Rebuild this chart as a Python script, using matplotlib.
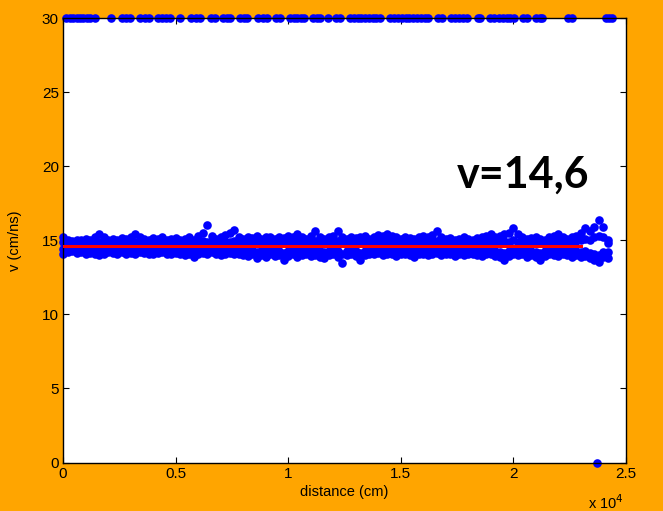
import numpy as np
import matplotlib
matplotlib.use("Agg")
import matplotlib.pyplot as plt

# velocity samples along the track, one column every 200 cm
dist = np.arange(0, 24400, 200)

v_upper = [
    15.2, 15.0, 14.95, 15.05, 15.0, 15.1, 15.05, 15.2, 15.45, 15.2,
    15.05, 15.1, 15.0, 15.15, 15.1, 15.25, 15.45, 15.2, 15.1, 15.05,
    15.15, 15.1, 15.2, 15.05, 15.1, 15.15, 15.0, 15.1, 15.2, 15.05,
    15.3, 15.5, 16.0, 15.3, 15.1, 15.2, 15.35, 15.5, 15.7, 15.2,
    15.1, 15.25, 15.15, 15.3, 15.1, 15.2, 15.25, 15.1, 15.2, 15.15,
    15.3, 15.25, 15.45, 15.2, 15.1, 15.3, 15.6, 15.2, 15.1, 15.2,
    15.3, 15.65, 15.25, 15.1, 15.2, 15.15, 15.25, 15.3, 15.1, 15.2,
    15.35, 15.3, 15.45, 15.3, 15.2, 15.1, 15.25, 15.15, 15.1, 15.2,
    15.3, 15.2, 15.35, 15.6, 15.2, 15.1, 15.15, 15.05, 15.1, 15.2,
    15.1, 15.05, 15.15, 15.2, 15.3, 15.45, 15.2, 15.3, 15.4, 15.5,
    15.85, 15.4, 15.2, 15.1, 15.15, 15.2, 15.1, 15.05, 15.2, 15.3,
    15.45, 15.2, 15.1, 15.2, 15.3, 15.5, 15.8, 15.6, 15.9, 16.35,
    15.9, 15.0,
]
v_midhi = [
    14.85, 14.8, 14.9, 14.85, 14.8, 14.9, 14.85, 14.8, 14.9, 14.85,
    14.8, 14.85, 14.9, 14.8, 14.85, 14.9, 14.85, 14.8, 14.9, 14.85,
    14.8, 14.9, 14.85, 14.8, 14.85, 14.9, 14.8, 14.85, 14.9, 14.85,
    14.9, 14.95, 14.9, 14.85, 14.8, 14.9, 14.85, 14.9, 14.95, 14.85,
    14.8, 14.9, 14.85, 14.9, 14.8, 14.85, 14.9, 14.8, 14.85, 14.9,
    14.85, 14.9, 14.95, 14.85, 14.8, 14.9, 14.95, 14.85, 14.8, 14.9,
    14.85, 14.95, 14.9, 14.8, 14.85, 14.9, 14.85, 14.9, 14.8, 14.85,
    14.9, 14.85, 14.95, 14.9, 14.85, 14.8, 14.9, 14.85, 14.8, 14.85,
    14.9, 14.85, 14.9, 14.95, 14.85, 14.8, 14.85, 14.8, 14.85, 14.9,
    14.8, 14.85, 14.9, 14.85, 14.9, 14.95, 14.85, 14.9, 14.95, 14.9,
    15.0, 14.9, 14.85, 14.8, 14.85, 14.9, 14.8, 14.85, 14.9, 14.85,
    14.95, 14.85, 14.8, 14.9, 14.95, 15.0, 15.1, 15.0, 15.2, 15.3,
    15.2, 14.8,
]
v_midlo = [
    14.4, 14.45, 14.5, 14.4, 14.45, 14.35, 14.4, 14.35, 14.3, 14.4,
    14.45, 14.4, 14.35, 14.45, 14.4, 14.4, 14.35, 14.45, 14.4, 14.35,
    14.35, 14.4, 14.45, 14.4, 14.35, 14.4, 14.35, 14.3, 14.35, 14.25,
    14.4, 14.4, 14.35, 14.45, 14.4, 14.3, 14.35, 14.4, 14.35, 14.4,
    14.3, 14.3, 14.35, 14.2, 14.3, 14.25, 14.35, 14.3, 14.3, 14.15,
    14.3, 14.35, 14.25, 14.3, 14.4, 14.3, 14.3, 14.25, 14.2, 14.3,
    14.4, 14.25, 14.05, 14.3, 14.4, 14.3, 14.15, 14.3, 14.4, 14.35,
    14.4, 14.3, 14.4, 14.35, 14.3, 14.4, 14.35, 14.3, 14.25, 14.35,
    14.4, 14.3, 14.35, 14.4, 14.3, 14.4, 14.35, 14.3, 14.4, 14.3,
    14.35, 14.4, 14.3, 14.3, 14.35, 14.4, 14.3, 14.2, 14.15, 14.3,
    14.35, 14.3, 14.4, 14.25, 14.3, 14.2, 14.15, 14.3, 14.35, 14.3,
    14.3, 14.35, 14.3, 14.25, 14.3, 14.2, 14.3, 14.15, 14.1, 14.0,
    14.2, 14.2,
]
v_lower = [
    14.1, 14.2, 14.25, 14.15, 14.2, 14.1, 14.15, 14.05, 14.0, 14.1,
    14.2, 14.15, 14.1, 14.2, 14.1, 14.15, 14.05, 14.2, 14.15, 14.1,
    14.05, 14.15, 14.2, 14.1, 14.05, 14.15, 14.1, 14.0, 14.05, 13.9,
    14.1, 14.15, 14.05, 14.2, 14.1, 14.0, 14.1, 14.15, 14.05, 14.1,
    14.0, 13.95, 14.05, 13.8, 14.0, 13.9, 14.05, 13.95, 14.0, 13.7,
    13.95, 14.05, 13.9, 14.0, 14.1, 13.95, 14.0, 13.9, 13.8, 14.0,
    14.1, 13.9, 13.45, 14.0, 14.1, 13.95, 13.7, 14.0, 14.1, 14.05,
    14.15, 14.0, 14.1, 14.05, 13.95, 14.1, 14.05, 14.0, 13.9, 14.05,
    14.1, 14.0, 14.05, 14.15, 14.0, 14.1, 14.05, 13.95, 14.1, 14.0,
    14.05, 14.1, 14.0, 13.95, 14.05, 14.1, 13.95, 13.85, 13.7, 13.95,
    14.05, 14.0, 14.1, 13.9, 14.0, 13.85, 13.7, 13.95, 14.05, 14.0,
    13.95, 14.05, 14.0, 13.9, 14.0, 13.85, 13.95, 13.8, 13.7, 13.5,
    13.85, 13.8,
]

# readings that saturated at the 30 cm/ns ceiling
sat_dist = [
    150, 300, 450, 600, 750, 900, 1050, 1200, 1400,
    2150, 2600, 2800, 2980, 3420, 3620, 3820,
    4220, 4400, 4580, 4760, 5200, 5690, 5890, 6090,
    6580, 6760, 7110, 7270, 7420, 7870, 8020, 8180,
    8670, 8870, 9070, 9470, 9640,
    10090, 10250, 10400, 10560, 10710, 11110, 11270, 11420, 11760,
    12130, 12310, 12760, 12920, 13080, 13250, 13420, 13590, 13760, 13920, 14090,
    14530, 14700, 14870, 15040, 15210, 15380, 15550, 15720, 15890, 16060, 16220,
    16670, 16840, 17240, 17420, 17600, 17780, 17960, 18440, 18530,
    18980, 19160, 19340, 19520, 19700, 19870, 20040, 20440, 20620,
    21020, 21160, 21290, 22440, 22620, 24090, 24250, 24400,
]
sat_v = [30.0] * len(sat_dist)

# single dropout reading
drop_dist = [23700]
drop_v = [0.0]

# fitted mean velocity
v_mean = 14.6
fit_range = [0, 23000]

xticks = [0, 5000, 10000, 15000, 20000, 25000]
xticklabels = ["0", "0.5", "1", "1.5", "2", "2.5"]
yticks = [0, 5, 10, 15, 20, 25, 30]

plt.rcParams["font.family"] = ["Liberation Sans", "DejaVu Sans"]

fig = plt.figure(figsize=(6.63, 5.11), dpi=100, facecolor="#ffa500")
ax = fig.add_axes([63 / 663, 1 - 462.5 / 511, 563 / 663, 444.5 / 511])
ax.set_facecolor("white")

dot = dict(color="#0000ff", marker="o", markersize=6.2, linestyle="none",
           markeredgewidth=0, clip_on=False)
for series in (v_upper, v_midhi, v_midlo, v_lower):
    ax.plot(dist, series, **dot)
ax.plot(sat_dist, sat_v, **dot)
ax.plot(drop_dist, drop_v, **dot)

ax.plot(fit_range, [v_mean, v_mean], color="#ff0000", linewidth=2.2, zorder=5)

ax.set_xlim(0, 25000)
ax.set_ylim(0, 30)
ax.set_xticks(xticks)
ax.set_xticklabels(xticklabels)
ax.set_yticks(yticks)
ax.tick_params(direction="in", length=4, width=0.8, top=True, right=True,
               labelsize=11, colors="black", pad=3)
for sp in ax.spines.values():
    sp.set_linewidth(1.0)
    sp.set_color("black")

ax.set_xlabel("distance (cm)", fontsize=10.5, labelpad=3)
ax.set_ylabel("v (cm/ns)", fontsize=10.5, labelpad=14)
fig.text(588 / 663, 1 - 503 / 511, r"x 10$^4$", fontsize=10.5, va="center")

ax.text(0.817, 0.648, "v=14,6", transform=ax.transAxes, fontsize=31,
        fontweight="bold", family="Lato", ha="center", va="center")

fig.savefig("out.png", dpi=100, facecolor=fig.get_facecolor())
